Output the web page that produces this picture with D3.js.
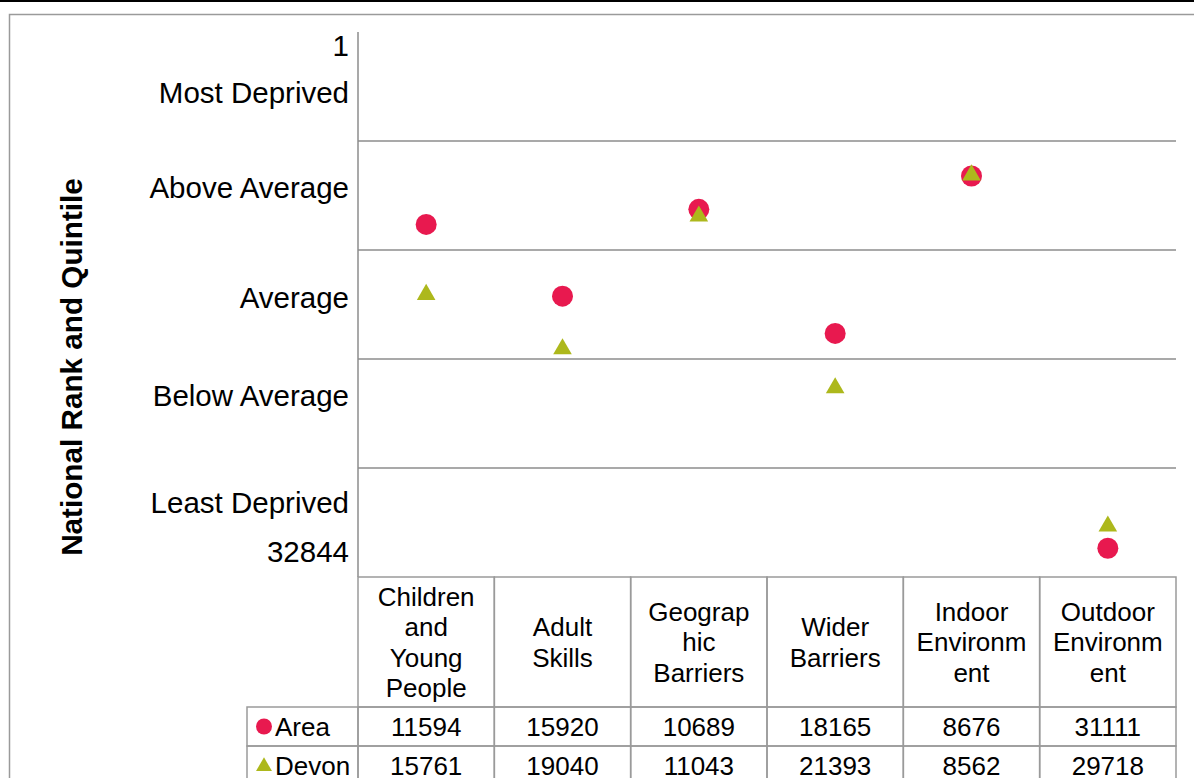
<!DOCTYPE html>
<html>
<head>
<meta charset="utf-8">
<script src="https://cdn.jsdelivr.net/npm/d3@7"></script>
<style>
  body { margin: 0; background: #fff; overflow: hidden; }
  text { font-family: "Liberation Sans", Arial, sans-serif; fill: #000; }
</style>
</head>
<body>
<div id="chart"></div>
<script>
// domains along the x axis, with the line breaks used in the table header
var categories = ["Children and Young People", "Adult Skills", "Geographic Barriers",
                  "Wider Barriers", "Indoor Environment", "Outdoor Environment"];
var headerLines = [["Children", "and", "Young", "People"], ["Adult", "Skills"],
                   ["Geograp", "hic", "Barriers"], ["Wider", "Barriers"],
                   ["Indoor", "Environm", "ent"], ["Outdoor", "Environm", "ent"]];

var areaValues = [11594, 15920, 10689, 18165, 8676, 31111];
var devonValues = [15761, 19040, 11043, 21393, 8562, 29718];

var rankMin = 1, rankMax = 32844;
var quintileBreaks = [6569, 13138, 19706, 26275];

// y axis labels and the rank each one sits at
var yLabels = ["1", "Most Deprived", "Above Average", "Average", "Below Average", "Least Deprived", "32844"];
var yLabelRanks = [784, 3617, 9342, 15971, 21877, 28326, 31279];

var W = 1194, H = 778;
var margin = { left: 358, right: 18, top: 32, bottom: 201 };
var plotW = W - margin.left - margin.right;
var plotH = H - margin.top - margin.bottom;

var svg = d3.select("#chart").append("svg")
    .attr("width", W)
    .attr("height", H);

// outer frame
svg.append("line")
    .attr("x1", 0).attr("x2", W).attr("y1", 1).attr("y2", 1)
    .attr("stroke", "#000").attr("stroke-width", 2);
svg.append("rect")
    .attr("x", 9.5).attr("y", 14.5)
    .attr("width", W).attr("height", H)
    .attr("fill", "none").attr("stroke", "#9a9a9a").attr("stroke-width", 1.5);

var g = svg.append("g")
    .attr("transform", "translate(" + margin.left + "," + margin.top + ")");

var x = d3.scaleBand().domain(categories).range([0, plotW]).padding(0);
var y = d3.scaleLinear().domain([rankMin, rankMax]).range([0, plotH]);

var gridColor = "#8c8c8c";

// quintile gridlines
g.selectAll(".grid")
    .data(quintileBreaks)
    .enter().append("line")
    .attr("class", "grid")
    .attr("x1", 0).attr("x2", plotW)
    .attr("y1", function(d) { return y(d); })
    .attr("y2", function(d) { return y(d); })
    .attr("stroke", gridColor).attr("stroke-width", 1.5);

// y axis line
g.append("line")
    .attr("x1", 0).attr("x2", 0).attr("y1", 0).attr("y2", plotH)
    .attr("stroke", gridColor).attr("stroke-width", 1.5);

// y axis labels
g.selectAll(".ylab")
    .data(yLabels)
    .enter().append("text")
    .attr("class", "ylab")
    .attr("x", -9)
    .attr("y", function(d, i) { return y(yLabelRanks[i]); })
    .attr("dy", "0.36em")
    .attr("text-anchor", "end")
    .style("font-size", "29.5px")
    .text(function(d) { return d; });

// axis title
svg.append("text")
    .attr("transform", "translate(82," + 367 + ") rotate(-90)")
    .attr("text-anchor", "middle")
    .style("font-size", "29.7px")
    .style("font-weight", "bold")
    .text("National Rank and Quintile");

var areaColor = "#e8194f";
var devonColor = "#adb81c";

var triangle = d3.symbol().type(d3.symbolTriangle).size(150);

// Area points
g.selectAll(".area")
    .data(areaValues)
    .enter().append("circle")
    .attr("class", "area")
    .attr("cx", function(d, i) { return x(categories[i]) + x.bandwidth() / 2; })
    .attr("cy", function(d) { return y(d); })
    .attr("r", 10.5)
    .attr("fill", areaColor);

// Devon points
g.selectAll(".devon")
    .data(devonValues)
    .enter().append("path")
    .attr("class", "devon")
    .attr("d", triangle)
    .attr("transform", function(d, i) {
        return "translate(" + (x(categories[i]) + x.bandwidth() / 2) + "," + (y(d) + 1) + ")";
    })
    .attr("fill", devonColor);

// data table under the plot
var headerH = 130, rowH = 39, legendW = 111;
var tableColor = "#9a9a9a";
var t = g.append("g").attr("transform", "translate(0," + plotH + ")");

var cols = t.selectAll(".col")
    .data(categories)
    .enter().append("g")
    .attr("class", "col")
    .attr("transform", function(d) { return "translate(" + x(d) + ",0)"; });

cols.append("rect")
    .attr("width", x.bandwidth()).attr("height", headerH)
    .attr("fill", "none").attr("stroke", tableColor).attr("stroke-width", 1.5);

cols.append("text")
    .attr("x", x.bandwidth() / 2)
    .attr("y", function(d, i) { return headerH / 2 - (headerLines[i].length - 1) * 30.5 / 2; })
    .attr("text-anchor", "middle")
    .style("font-size", "26px")
    .selectAll("tspan")
    .data(function(d, i) { return headerLines[i]; })
    .enter().append("tspan")
    .attr("x", x.bandwidth() / 2)
    .attr("dy", function(d, i) { return i === 0 ? "0.36em" : 30.5; })
    .text(function(d) { return d; });

var rows = [
    { name: "Area", values: areaValues, color: areaColor, shape: "circle" },
    { name: "Devon", values: devonValues, color: devonColor, shape: "triangle" }
];

var rowG = t.selectAll(".row")
    .data(rows)
    .enter().append("g")
    .attr("class", "row")
    .attr("transform", function(d, i) { return "translate(0," + (headerH + i * rowH) + ")"; });

rowG.append("rect")
    .attr("x", -legendW).attr("width", legendW).attr("height", rowH)
    .attr("fill", "none").attr("stroke", tableColor).attr("stroke-width", 1.5);

rowG.each(function(r) {
    var sel = d3.select(this);
    if (r.shape === "circle") {
        sel.append("circle")
            .attr("cx", -legendW + 17).attr("cy", rowH / 2)
            .attr("r", 8).attr("fill", r.color);
    } else {
        sel.append("path")
            .attr("d", d3.symbol().type(d3.symbolTriangle).size(110))
            .attr("transform", "translate(" + (-legendW + 17) + "," + (rowH / 2 + 1) + ")")
            .attr("fill", r.color);
    }
});

rowG.append("text")
    .attr("x", -legendW + 28).attr("y", rowH / 2)
    .attr("dy", "0.36em")
    .style("font-size", "26px")
    .text(function(d) { return d.name; });

rowG.selectAll(".cell")
    .data(function(r) { return r.values.map(function(v, i) { return { v: v, c: categories[i] }; }); })
    .enter().append("rect")
    .attr("class", "cell")
    .attr("x", function(d) { return x(d.c); })
    .attr("width", x.bandwidth()).attr("height", rowH)
    .attr("fill", "none").attr("stroke", tableColor).attr("stroke-width", 1.5);

rowG.selectAll(".val")
    .data(function(r) { return r.values.map(function(v, i) { return { v: v, c: categories[i] }; }); })
    .enter().append("text")
    .attr("class", "val")
    .attr("x", function(d) { return x(d.c) + x.bandwidth() / 2; })
    .attr("y", rowH / 2)
    .attr("dy", "0.36em")
    .attr("text-anchor", "middle")
    .style("font-size", "26px")
    .text(function(d) { return d.v; });
</script>
</body>
</html>
